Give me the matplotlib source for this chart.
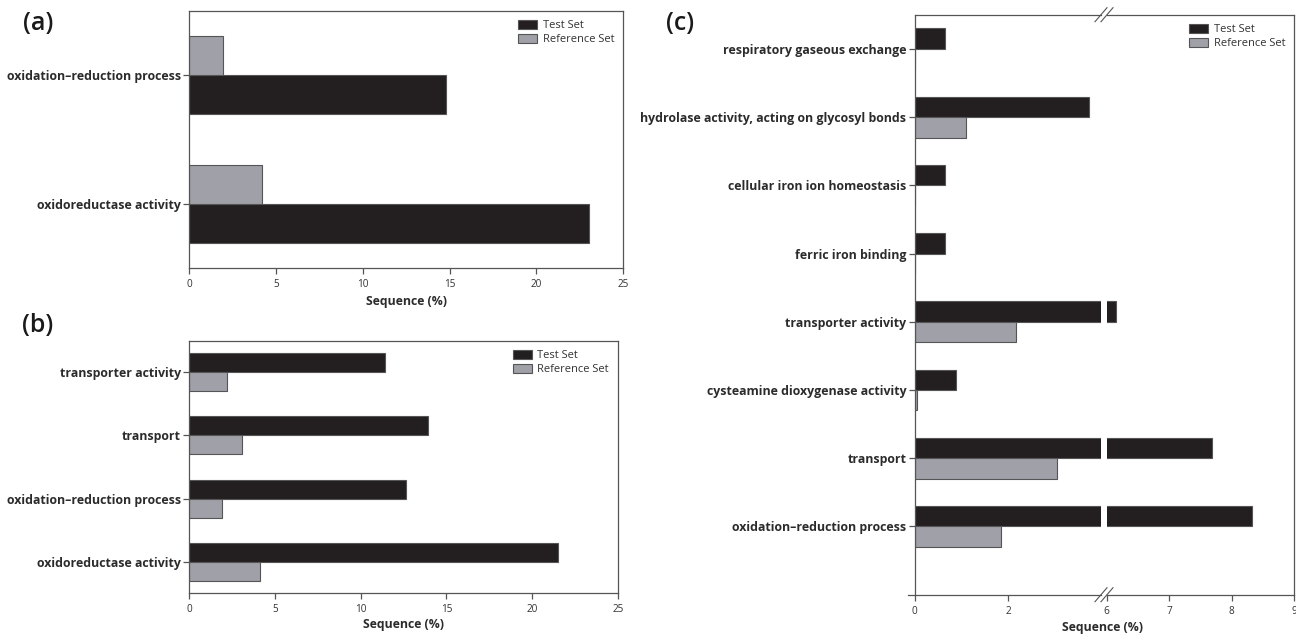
import matplotlib
matplotlib.use("Agg")
import matplotlib.pyplot as plt
import numpy as np

plt.rcParams['font.family'] = ['Open Sans', 'DejaVu Sans']

# ---------------- data ----------------
a_categories = ["oxidoreductase activity", "oxidation\u2013reduction process"]
a_test = [23.0, 14.77]
a_ref = [4.18, 1.93]

b_categories = ["oxidoreductase activity", "oxidation\u2013reduction process",
                "transport", "transporter activity"]
b_test = [21.52, 12.67, 13.95, 11.43]
b_ref = [4.13, 1.90, 3.09, 2.19]

c_categories = ["oxidation\u2013reduction process", "transport",
                "cysteamine dioxygenase activity", "transporter activity",
                "ferric iron binding", "cellular iron ion homeostasis",
                "hydrolase activity, acting on glycosyl bonds",
                "respiratory gaseous exchange"]
c_test = [8.33, 7.68, 0.88, 6.15, 0.66, 0.66, 3.74, 0.66]
c_ref = [1.85, 3.05, 0.04, 2.18, 0.0, 0.015, 1.11, 0.015]

ab_xticks = [0, 5, 10, 15, 20, 25]
c_xticks_left = [0, 2]
c_xticks_right = [6, 7, 8, 9]

series_labels = ["Test Set", "Reference Set"]

# ---------------- style ----------------
TEST_C = "#231f20"
REF_C = "#a0a1a8"
EDGE_C = "#555555"
SPINE_C = "#555555"
H = 0.3
LBL_FS = 8.9
TICK_FS = 7.2
XL_FS = 8.8
LEG_FS = 8.0

fig = plt.figure(figsize=(12.96, 6.34), dpi=100)
W, Hh = 1296.0, 634.0


def ax_px(l, t, r, b):
    return fig.add_axes([l / W, 1 - b / Hh, (r - l) / W, (b - t) / Hh])


def style(ax):
    for s in ax.spines.values():
        s.set_color(SPINE_C)
        s.set_linewidth(0.9)
    ax.tick_params(axis='both', direction='out', length=4, width=0.9, color=SPINE_C)
    ax.tick_params(axis='x', labelsize=TICK_FS, labelcolor="#333333", pad=4)
    ax.tick_params(axis='y', labelsize=LBL_FS, labelcolor="#2b2b2b", pad=2)
    for t in ax.get_yticklabels():
        t.set_fontweight('bold')


def legend(ax, handles):
    ax.legend(handles, series_labels, loc='upper right', frameon=False,
              fontsize=LEG_FS, handlelength=1.7, handleheight=0.9,
              handletextpad=0.5, labelspacing=0.25, borderaxespad=0.4,
              labelcolor="#333333")


# ---------------- panel (a) ----------------
axa = ax_px(189, 10.7, 623.3, 268.3)
ya = np.arange(len(a_categories))
bt = axa.barh(ya - H / 2, a_test, height=H, color=TEST_C, edgecolor=EDGE_C, linewidth=0.8)
br = axa.barh(ya + H / 2, a_ref, height=H, color=REF_C, edgecolor=EDGE_C, linewidth=0.8)
axa.set_xlim(0, 25)
axa.set_ylim(-0.5, 1.5)
axa.set_xticks(ab_xticks)
axa.set_yticks(ya)
axa.set_yticklabels(a_categories)
style(axa)
axa.set_xlabel("Sequence (%)", fontsize=XL_FS, fontweight='bold', color="#2b2b2b", labelpad=3)
legend(axa, [bt, br])

# ---------------- panel (b) ----------------
axb = ax_px(189, 340.7, 618, 593.3)
yb = np.arange(len(b_categories))
bt = axb.barh(yb + H / 2, b_test, height=H, color=TEST_C, edgecolor=EDGE_C, linewidth=0.8)
br = axb.barh(yb - H / 2, b_ref, height=H, color=REF_C, edgecolor=EDGE_C, linewidth=0.8)
axb.set_xlim(0, 25)
axb.set_ylim(-0.5, 3.5)
axb.set_xticks(ab_xticks)
axb.set_yticks(yb)
axb.set_yticklabels(b_categories)
style(axb)
axb.set_xlabel("Sequence (%)", fontsize=XL_FS, fontweight='bold', color="#2b2b2b", labelpad=2)
legend(axb, [bt, br])

# ---------------- panel (c) broken axis ----------------
axc1 = ax_px(914.7, 14.7, 1101.3, 594.7)
axc2 = ax_px(1106.7, 14.7, 1294.3, 594.7)
yc = np.arange(len(c_categories))
for ax in (axc1, axc2):
    bt = ax.barh(yc + H / 2, c_test, height=H, color=TEST_C, edgecolor=EDGE_C, linewidth=0.8)
    br = ax.barh(yc - H / 2, c_ref, height=H, color=REF_C, edgecolor=EDGE_C, linewidth=0.8)
    ax.set_ylim(-1, 7.5)
axc1.set_xlim(0, 4)
axc2.set_xlim(6, 9)
axc1.set_xticks(c_xticks_left)
axc2.set_xticks(c_xticks_right)
axc1.set_yticks(yc)
axc1.set_yticklabels(c_categories)
axc2.set_yticks([])
axc1.spines['right'].set_visible(False)
axc2.spines['left'].set_visible(False)
style(axc1)
style(axc2)
axc2.tick_params(axis='y', left=False)
legend(axc2, [bt, br])

# small extension of bottom spine to the left of the y axis
fig.add_artist(plt.Line2D([908 / W, 914.7 / W], [1 - 594.7 / Hh, 1 - 594.7 / Hh],
                          color=SPINE_C, lw=0.9, transform=fig.transFigure))

fig.text(1103 / W, 1 - 628 / Hh, "Sequence (%)", ha='center', va='center',
         fontsize=XL_FS, fontweight='bold', color="#2b2b2b")

# break marks
for yy in (14.7, 594.7):
    for dx in (-3.0, 3.0):
        cx = 1104 + dx
        fig.add_artist(plt.Line2D([(cx - 6) / W, (cx + 6) / W],
                                  [1 - (yy + 7) / Hh, 1 - (yy - 7) / Hh],
                                  color=SPINE_C, lw=0.8, transform=fig.transFigure))

# panel labels
for x, y, s in ((38, 23, "(a)"), (38, 326, "(b)"), (680, 23, "(c)")):
    fig.text(x / W, 1 - y / Hh, s, fontsize=18, fontweight='semibold',
             ha='center', va='center', color="#1a1a1a")

fig.savefig("out.png", dpi=100)
